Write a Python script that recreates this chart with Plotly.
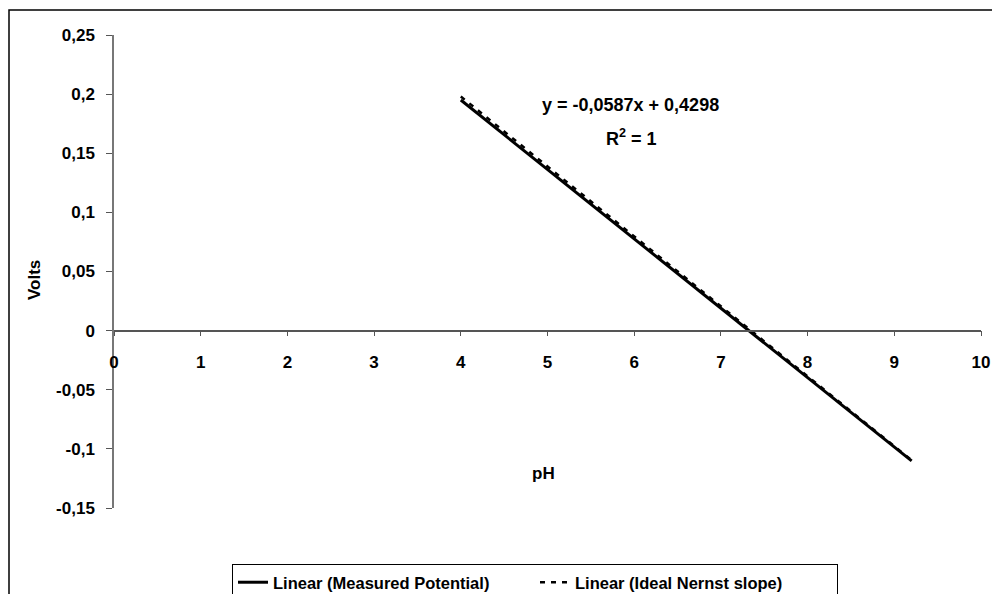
import plotly.graph_objects as go

# Data
ph = [4.0, 9.2]
measured_potential = [0.1950, -0.1102]
ideal_nernst = [0.1980, -0.1096]

x_tickvals = [0, 1, 2, 3, 4, 5, 6, 7, 8, 9, 10]
x_ticktext = ["0", "1", "2", "3", "4", "5", "6", "7", "8", "9", "10"]
y_tickvals = [-0.15, -0.1, -0.05, 0, 0.05, 0.1, 0.15, 0.2, 0.25]
y_ticktext = ["-0,15", "-0,1", "-0,05", "0", "0,05", "0,1", "0,15", "0,2", "0,25"]

equation_text = "y = -0,0587x + 0,4298"
r2_text = "R<sup>2</sup> = 1"

FONT = "Arial, Liberation Sans, sans-serif"
FS = 17

# plot-area geometry (pixels) used to convert annotation positions
L, R, T, B = 114, 981, 35, 508
PW, PH = R - L, B - T


def px(xp):
    return (xp - L) / PW


def py(yp):
    return (B - yp) / PH


def bold(size):
    return dict(family=FONT, size=size, color="black", weight="bold")


fig = go.Figure()
fig.add_trace(go.Scatter(
    x=ph, y=measured_potential, mode="lines",
    name="Linear (Measured Potential)",
    line=dict(color="black", width=3),
))
fig.add_trace(go.Scatter(
    x=ph, y=ideal_nernst, mode="lines",
    name="Linear (Ideal Nernst slope)",
    line=dict(color="black", width=2.5, dash="5px,6px"),
))

fig.update_layout(
    width=992, height=594,
    margin=dict(l=L, r=992 - R, t=T, b=594 - B, autoexpand=False),
    paper_bgcolor="white", plot_bgcolor="white",
    font=bold(FS),
    showlegend=True,
    legend=dict(
        orientation="h",
        xref="paper", yref="paper",
        x=px(232), xanchor="left",
        y=py(564), yanchor="top",
        bordercolor="black", borderwidth=1,
        bgcolor="white",
        font=bold(16.5),
        entrywidth=257,
        entrywidthmode="pixels",
        tracegroupgap=0,
    ),
    xaxis=dict(
        range=[0, 10], automargin=False,
        anchor="free", position=0.375,
        tickvals=x_tickvals, ticktext=x_ticktext,
        showgrid=False, zeroline=False,
        showline=True, linecolor="#555555", linewidth=1.5,
        ticks="outside", ticklen=5, tickcolor="#555555",
        ticklabelstandoff=11,
        tickfont=bold(FS),
    ),
    yaxis=dict(
        range=[-0.15, 0.25], automargin=False,
        tickvals=y_tickvals, ticktext=y_ticktext,
        showgrid=False, zeroline=False,
        showline=True, linecolor="#777777", linewidth=1.5,
        ticks="outside", ticklen=6, tickcolor="#555555",
        ticklabelstandoff=8,
        tickfont=bold(FS),
    ),
)

# Trendline equation annotations
fig.add_annotation(x=px(630), y=py(105), xref="paper", yref="paper", text=equation_text,
                   xanchor="center", yanchor="middle",
                   showarrow=False, font=bold(18))
fig.add_annotation(x=px(631), y=py(137), xref="paper", yref="paper", text=r2_text,
                   xanchor="center", yanchor="middle",
                   showarrow=False, font=bold(18))

# Axis titles
fig.add_annotation(x=px(34), y=py(280), xref="paper", yref="paper", text="Volts",
                   xanchor="center", yanchor="middle",
                   showarrow=False, textangle=-90, font=bold(17))
fig.add_annotation(x=px(543), y=py(473), xref="paper", yref="paper", text="pH",
                   xanchor="center", yanchor="middle",
                   showarrow=False, font=bold(17))

# Outer chart border
fig.add_shape(type="rect", xref="paper", yref="paper",
              x0=px(9), x1=px(1005), y0=py(615), y1=py(10),
              line=dict(color="black", width=1.5), fillcolor="rgba(0,0,0,0)", layer="below")

fig.write_html(
    "out.html",
    config={"displayModeBar": False},
    post_script="document.body.style.margin='0';document.body.style.overflow='hidden';",
)
